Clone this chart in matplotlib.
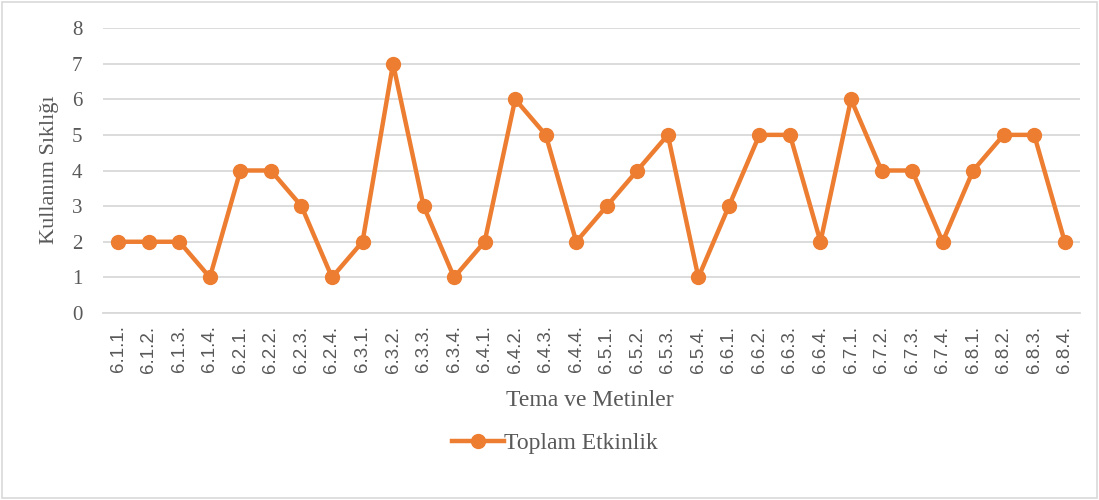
from matplotlib import pyplot as plt
from matplotlib.patches import Rectangle

# Data
categories = ["6.1.1.", "6.1.2.", "6.1.3.", "6.1.4.",
              "6.2.1.", "6.2.2.", "6.2.3.", "6.2.4.",
              "6.3.1.", "6.3.2.", "6.3.3.", "6.3.4.",
              "6.4.1.", "6.4.2.", "6.4.3.", "6.4.4.",
              "6.5.1.", "6.5.2.", "6.5.3.", "6.5.4.",
              "6.6.1.", "6.6.2.", "6.6.3.", "6.6.4.",
              "6.7.1.", "6.7.2.", "6.7.3.", "6.7.4.",
              "6.8.1.", "6.8.2.", "6.8.3.", "6.8.4."]
toplam_etkinlik = [2, 2, 2, 1, 4, 4, 3, 1, 2, 7, 3, 1, 2, 6, 5, 2,
                   3, 4, 5, 1, 3, 5, 5, 2, 6, 4, 4, 2, 4, 5, 5, 2]
y_ticks = [0, 1, 2, 3, 4, 5, 6, 7, 8]


def main():
    orange = "#ED7D31"
    grey_text = "#595959"
    serif = ["Liberation Serif", "DejaVu Serif"]

    fig = plt.figure(figsize=(10.99, 5.0), dpi=100)
    ax = fig.add_axes([103 / 1099, 1 - 313 / 500, (1080 - 103) / 1099, (313 - 28) / 500])

    # outer border of the chart area
    fig.patches.append(Rectangle((0.002, 0.004), 0.996, 0.992, transform=fig.transFigure,
                                 fill=False, edgecolor="#d9d9d9", linewidth=1.2))

    x = list(range(len(categories)))
    ax.plot(x, toplam_etkinlik, color=orange, linewidth=3.2, marker="o",
            markersize=10, label="Toplam Etkinlik", solid_joinstyle="round")

    ax.set_xlim(-0.5, len(categories) - 0.5)
    ax.set_ylim(0, 8)
    ax.set_yticks(y_ticks)
    ax.set_yticklabels([str(v) for v in y_ticks], fontfamily=serif, fontsize=15, color=grey_text)
    ax.set_xticks(x)
    ax.set_xticklabels(categories, rotation=90, fontfamily="Liberation Sans",
                       fontsize=13.5, color=grey_text)
    ax.tick_params(axis="both", length=0)
    ax.tick_params(axis="y", pad=15)
    ax.tick_params(axis="x", pad=9)

    ax.grid(axis="y", color="#d9d9d9", linewidth=1.3)
    ax.set_axisbelow(True)
    for side in ["top", "right", "left"]:
        ax.spines[side].set_visible(False)
    ax.spines["bottom"].set_color("#d9d9d9")
    ax.spines["bottom"].set_linewidth(1.3)

    fig.text(50 / 1099, 1 - 170 / 500, "Kullanım Sıklığı", rotation=90, ha="center", va="center",
             fontfamily=serif, fontsize=16, color=grey_text)
    fig.text(590 / 1099, 1 - 400 / 500, "Tema ve Metinler", ha="center", va="center",
             fontfamily=serif, fontsize=17, color=grey_text)

    leg = fig.legend(loc="center", bbox_to_anchor=(555 / 1099, 1 - 443 / 500), frameon=False,
                     prop={"family": serif, "size": 17}, handlelength=2.2, handletextpad=0.0)
    for t in leg.get_texts():
        t.set_color(grey_text)

    fig.savefig("out.png", dpi=100)


if __name__ == "__main__":
    main()
